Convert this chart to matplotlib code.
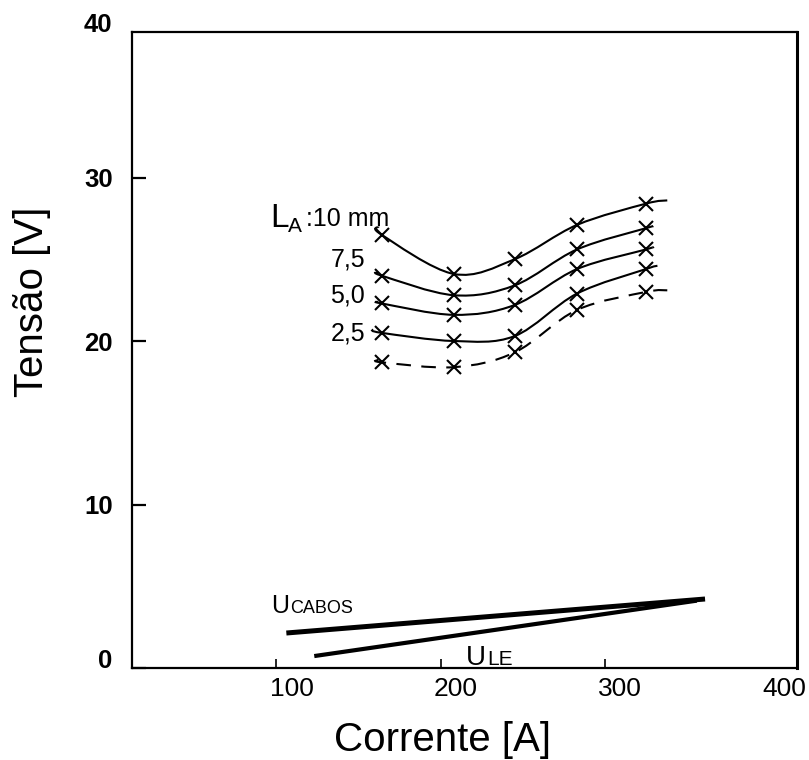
import numpy as np
import matplotlib
matplotlib.use('Agg')
import matplotlib.pyplot as plt
from matplotlib.path import Path
from matplotlib.patches import PathPatch
import matplotlib.transforms as mtransforms

plt.rcParams['font.family'] = ['Liberation Sans', 'DejaVu Sans']

# ---------------- data ----------------
currents = [164, 208, 245, 283, 325]           # Corrente [A] of the measured points
u_la_10 = [26.5, 24.1, 25.0, 27.1, 28.4]      # L_A = 10 mm
u_la_75 = [24.0, 22.8, 23.4, 25.6, 26.9]      # L_A = 7,5 mm
u_la_50 = [22.3, 21.6, 22.2, 24.4, 25.6]      # L_A = 5,0 mm
u_la_25 = [20.5, 20.0, 20.3, 22.9, 24.4]      # L_A = 2,5 mm
u_la_00 = [18.7, 18.4, 19.3, 21.9, 23.0]      # dashed curve

# start / end of each drawn curve (lines run slightly past the markers)
curve_start_x = [162, 162, 162, 158, 162]
curve_start_y = [27.0, 24.2, 22.4, 20.7, 18.85]
curve_end_x = [338, 329, 329, 332, 338]
curve_end_y = [28.6, 27.0, 25.75, 24.6, 23.1]

# straight lines
cabos_x = [106, 361]
cabos_y = [2.14, 4.22]
le_x = [123, 356]
le_y = [0.73, 4.12]

x_ticks = [100, 200, 300, 400]
y_ticks = [0, 10, 20, 30]

# ---------------- figure ----------------
W, H = 809, 760
fig = plt.figure(figsize=(W / 100, H / 100), dpi=100)
ax = fig.add_axes([132 / W, 1 - 668 / H, (797 - 132) / W, (668 - 32) / H])
ax.set_xlim(12, 417)
ax.set_ylim(0, 38.9)


def smooth_path(xs, ys):
    P = np.column_stack([xs, ys]).astype(float)
    n = len(P)
    verts = [P[0]]
    codes = [Path.MOVETO]
    for i in range(n - 1):
        p0 = P[i - 1] if i > 0 else P[i]
        p1 = P[i]
        p2 = P[i + 1]
        p3 = P[i + 2] if i + 2 < n else P[i + 1]
        c1 = p1 + (p2 - p0) / 6.0
        c2 = p2 - (p3 - p1) / 6.0
        verts += [c1, c2, p2]
        codes += [Path.CURVE4] * 3
    return Path(verts, codes)


series = [u_la_10, u_la_75, u_la_50, u_la_25, u_la_00]
styles = ['-', '-', '-', '-', (0, (7, 5))]
for k, u in enumerate(series):
    xs = [curve_start_x[k]] + currents + [curve_end_x[k]]
    ys = [curve_start_y[k]] + u + [curve_end_y[k]]
    patch = PathPatch(smooth_path(xs, ys), fill=False, lw=1.5,
                      edgecolor='black', linestyle=styles[k], capstyle='butt')
    ax.add_patch(patch)
    ax.plot(currents, u, ls='none', marker='x', ms=10, mew=1.5, color='black')

ax.plot(cabos_x, cabos_y, color='black', lw=3.6, solid_capstyle='butt')
ax.plot(le_x, le_y, color='black', lw=3.0, solid_capstyle='butt')

# ---------------- axes styling ----------------
for side in ['left', 'bottom', 'top']:
    ax.spines[side].set_linewidth(1.6)
ax.spines['right'].set_linewidth(2.2)

ax.set_xticks(x_ticks)
ax.set_yticks(y_ticks)
ax.tick_params(axis='x', direction='in', length=6.5, width=1.2, pad=6.5,
               labelsize=19, top=False)
ax.tick_params(axis='y', direction='in', length=10, width=1.6, pad=14,
               labelsize=18.5, right=False)
for lbl in ax.get_yticklabels():
    lbl.set_fontweight('bold')

xoff = mtransforms.ScaledTranslation(15 / 100, 0, fig.dpi_scale_trans)
for lbl in ax.get_xticklabels():
    lbl.set_transform(lbl.get_transform() + xoff)
ylbls = ax.get_yticklabels()
ylbls[0].set_transform(ylbls[0].get_transform() +
                       mtransforms.ScaledTranslation(0, 10 / 100, fig.dpi_scale_trans))
ax.xaxis.get_major_ticks()[-1].tick1line.set_visible(False)


def ftext(px, py, s, **kw):
    kw.setdefault('va', 'baseline')
    fig.text(px / W, 1 - py / H, s, **kw)


ftext(112, 32, '40', ha='right', fontsize=18.5, fontweight='bold')

# curve labels
ftext(270, 227, 'L', fontsize=24)
ftext(288, 232, 'A', fontsize=15)
ftext(306, 226, ':10 mm', fontsize=18)
ftext(365, 266, '7,5', ha='right', fontsize=18)
ftext(365, 303, '5,0', ha='right', fontsize=18)
ftext(365, 340, '2,5', ha='right', fontsize=18)

ftext(271, 613, 'U', fontsize=18)
ftext(290, 613, 'CABOS', fontsize=13)
ftext(466, 665, 'U', fontsize=20)
ftext(487, 665, 'LE', fontsize=15)

# axis titles
ftext(442, 751, 'Corrente [A]', ha='center', fontsize=29)
fig.text(43 / W, 1 - 302 / H, 'Tensão [V]', rotation=90, ha='center',
         va='baseline', rotation_mode='anchor', fontsize=29)

fig.savefig('out.png', dpi=100)
